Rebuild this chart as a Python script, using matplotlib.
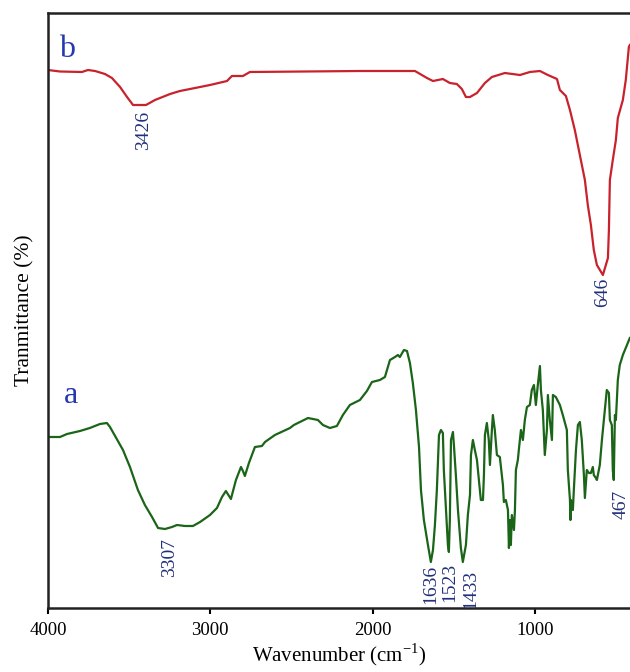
import matplotlib
matplotlib.use("Agg")
import matplotlib.pyplot as plt

plt.rcParams['font.family'] = ['Liberation Serif', 'DejaVu Serif']
plt.rcParams['mathtext.fontset'] = 'custom'
plt.rcParams['mathtext.rm'] = 'Liberation Serif'

# Spectrum b (red)
wn_b = [4000, 3926, 3791, 3754, 3710, 3649, 3606, 3556, 3513, 3476, 3396, 3341, 3248, 3187, 3094,
        3002, 2897, 2867, 2799, 2756, 2078, 1739, 1665, 1628, 1567, 1524, 1481, 1450, 1425, 1400,
        1357, 1308, 1265, 1185, 1092, 1031, 969, 920, 864, 846, 809, 784, 754, 723, 692,
        674, 655, 637, 618, 581, 550, 544, 538, 520, 501, 489, 458, 440, 421, 415]
T_b = [538, 536.5, 536, 538, 537, 534, 530, 521, 511, 503, 503, 508, 514, 517, 520,
       523, 527, 532, 532, 536, 537, 537, 530, 527, 529, 525, 524, 519, 511, 511,
       515, 525, 531, 535, 533, 536, 537, 533, 529, 518, 512, 498, 478, 453, 428,
       403, 383, 358, 343, 333, 350, 378, 428, 448, 468, 490, 508, 528, 561, 563]

# Spectrum a (green)
wn_a = [4000, 3926, 3883, 3803, 3742, 3680, 3637, 3618, 3569, 3538, 3495, 3446, 3403, 3359, 3322,
        3279, 3236, 3205, 3156, 3107, 3063, 3002, 2959, 2928, 2904, 2873, 2842, 2811, 2799, 2787,
        2762, 2725, 2682, 2663, 2602, 2509, 2485, 2448, 2398, 2337, 2306, 2263, 2220, 2183, 2140,
        2078, 2035, 2004, 1955, 1924, 1893, 1862, 1844, 1832, 1807, 1788, 1770, 1752, 1733, 1714,
        1702, 1684, 1659, 1641, 1628, 1616, 1604, 1591, 1579, 1567, 1561, 1548, 1536, 1530, 1524,
        1517, 1505, 1499, 1487, 1474, 1456, 1444, 1425, 1413, 1400, 1394, 1382, 1370, 1357, 1345,
        1333, 1320, 1314, 1308, 1296, 1284, 1277, 1265, 1259, 1247, 1234, 1216, 1197, 1191, 1179,
        1166, 1160, 1154, 1148, 1142, 1129, 1123, 1117, 1105, 1099, 1086, 1074, 1062, 1049, 1031,
        1019, 1006, 994, 982, 969, 963, 951, 939, 926, 920, 908, 895, 889, 871, 846,
        828, 803, 797, 784, 781, 778, 766, 760, 747, 735, 723, 711, 698, 692, 680,
        667, 655, 643, 637, 624, 618, 600, 587, 569, 557, 544, 538, 526, 520, 514,
        507, 501, 489, 477, 458, 433, 415]
T_a = [171, 171, 174, 177, 180, 184, 185, 181, 167, 158, 141, 118, 103, 91, 80,
       79, 81, 83, 82, 82, 86, 93, 100, 111, 117, 109, 128, 141, 137, 132,
       145, 161, 162, 166, 173, 180, 183, 186, 190, 188, 183, 180, 182, 193, 203,
       208, 217, 226, 228, 231, 248, 251, 253, 251, 258, 257, 245, 225, 198, 161,
       118, 88, 63, 46, 58, 83, 118, 173, 178, 175, 138, 98, 63, 56, 88,
       168, 176, 163, 133, 98, 60, 46, 63, 93, 113, 153, 168, 158, 148, 128,
       108, 108, 133, 173, 185, 168, 143, 178, 193, 178, 153, 151, 123, 106, 108,
       98, 60, 88, 63, 93, 78, 98, 138, 148, 158, 178, 168, 188, 201, 203,
       218, 223, 203, 223, 242, 218, 198, 153, 178, 213, 188, 168, 213, 211, 203,
       193, 178, 138, 108, 88, 108, 98, 118, 158, 183, 186, 168, 133, 110, 138,
       135, 135, 141, 133, 130, 128, 143, 168, 198, 218, 215, 188, 183, 138, 128,
       193, 188, 228, 243, 253, 263, 270]

# Peak labels: (text, wavenumber position, top of label)
peak_labels = ["3426", "646", "3307", "1636", "1523", "1433", "467"]
peak_x = [3409, 581, 3254, 1641, 1524, 1394, 470]
peak_top = [497, 330, 70, 43, 45, 38, 118]

series_names = ["b", "a"]
name_x = [3880, 3860]
name_y = [551, 205]

xticks = [4000, 3000, 2000, 1000]

fig = plt.figure(figsize=(6.30, 6.72), dpi=100)
ax = fig.add_axes([48/630, 64/672, 1 - 48/630, (608-13)/672])

ax.plot(wn_b, T_b, color='#c8222c', lw=1.6, solid_joinstyle='round')
ax.plot(wn_a, T_a, color='#1b6518', lw=1.6, solid_joinstyle='round')

for t, x, y in zip(peak_labels, peak_x, peak_top):
    ax.text(x, y, t, rotation=90, ha='center', va='top', color='#22307c', fontsize=14)

for t, x, y in zip(series_names, name_x, name_y):
    ax.text(x, y, t, ha='center', va='baseline', color='#2438b0', fontsize=23)

ax.set_xlim(4000, 414)
ax.set_ylim(0, 595)
ax.set_xticks(xticks)
ax.set_xticklabels([str(v) for v in xticks], fontsize=13.5)
ax.set_yticks([])
ax.tick_params(axis='x', direction='out', length=4, width=1.5, pad=6, colors='black')
for s in ['left', 'bottom', 'top']:
    ax.spines[s].set_linewidth(1.8)
    ax.spines[s].set_color('#222222')
ax.spines['right'].set_visible(False)

ax.set_xlabel(r'Wavenumber (cm$^{\mathregular{-1}}$)', fontsize=15, labelpad=2)
ax.set_ylabel('Tranmittance (%)', fontsize=15.5, labelpad=10)

fig.savefig('out.png', dpi=100)
